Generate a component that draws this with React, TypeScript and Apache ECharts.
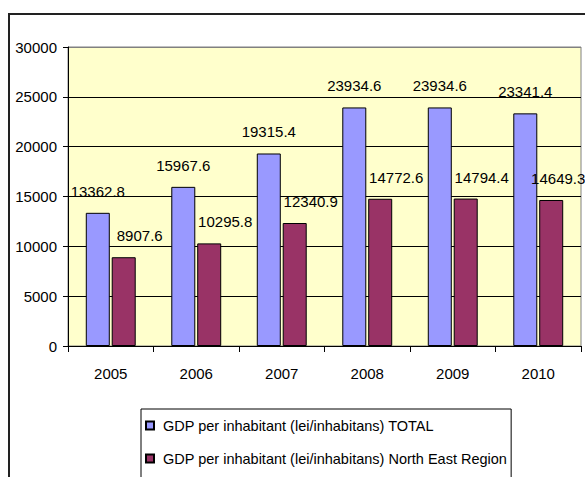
import React, { useEffect, useRef } from "react";
import * as echarts from "echarts";

const categories = ["2005", "2006", "2007", "2008", "2009", "2010"];
const totalValues = [13362.8, 15967.6, 19315.4, 23934.6, 23934.6, 23341.4];
const northEastValues = [8907.6, 10295.8, 12340.9, 14772.6, 14794.4, 14649.3];
const seriesNames = [
  "GDP per inhabitant (lei/inhabitans) TOTAL",
  "GDP per inhabitant (lei/inhabitans) North East Region",
];

const FONT = "Arial, 'Liberation Sans', sans-serif";

export default function App() {
  const ref = useRef<HTMLDivElement>(null);
  useEffect(() => {
    if (!ref.current) return;
    const chart = echarts.init(ref.current, null, { renderer: "svg" });
    const neData = northEastValues.map((v, i) =>
      i === northEastValues.length - 1
        ? { value: v, label: { offset: [7, 0] } }
        : v
    );
    chart.setOption({
      animation: false,
      backgroundColor: "#ffffff",
      textStyle: { fontFamily: FONT },
      graphic: [
        {
          type: "rect",
          shape: { x: 9, y: 14, width: 620, height: 520 },
          style: { fill: "none", stroke: "#222", lineWidth: 2 },
          silent: true,
          z: 100,
        },
      ],
      grid: {
        left: 68,
        top: 47,
        right: 4,
        bottom: 131,
        show: true,
        backgroundColor: "#FFFFCC",
        borderColor: "#808080",
        borderWidth: 1,
      },
      legend: {
        orient: "vertical",
        left: 141,
        top: 409,
        height: 120,
        padding: [9, 4, 12, 4],
        itemGap: 18,
        itemWidth: 8,
        itemHeight: 8,
        icon: "rect",
        borderColor: "#000",
        borderWidth: 1,
        backgroundColor: "#fff",
        selectedMode: false,
        textStyle: { fontSize: 14.5, color: "#000", fontFamily: FONT, padding: [0, 0, 0, 4] },
        data: seriesNames,
      },
      xAxis: {
        type: "category",
        data: categories,
        axisLine: { show: true, lineStyle: { color: "#000", width: 1 } },
        axisTick: { show: true, length: 6, lineStyle: { color: "#000" } },
        axisLabel: { color: "#000", fontSize: 15, margin: 20, fontFamily: FONT },
      },
      yAxis: {
        type: "value",
        min: 0,
        max: 30000,
        interval: 5000,
        axisLine: { show: true, lineStyle: { color: "#000", width: 1 } },
        axisTick: { show: true, length: 5, lineStyle: { color: "#000" } },
        axisLabel: {
          color: "#000",
          fontSize: 15,
          margin: 11,
          fontFamily: FONT,
          formatter: (v: number) => String(v),
        },
        splitLine: {
          show: true,
          lineStyle: {
            color: ["#000", "#000", "#000", "#000", "#000", "#000", "#808080"],
            width: 1,
          },
        },
      },
      series: [
        {
          name: seriesNames[0],
          type: "bar",
          data: totalValues,
          barWidth: 24,
          barGap: "8%",
          itemStyle: { color: "#9999FF", borderColor: "#000", borderWidth: 1 },
          label: {
            show: true,
            position: "top",
            distance: 14,
            color: "#000",
            fontSize: 15,
            fontFamily: FONT,
          },
        },
        {
          name: seriesNames[1],
          type: "bar",
          data: neData,
          barWidth: 24,
          barGap: "8%",
          itemStyle: { color: "#993366", borderColor: "#000", borderWidth: 1 },
          label: {
            show: true,
            position: "top",
            distance: 14,
            offset: [16, 0],
            color: "#000",
            fontSize: 15,
            fontFamily: FONT,
          },
        },
      ],
    });
    return () => chart.dispose();
  }, []);
  return (
    <div
      ref={ref}
      style={{ position: "fixed", left: 0, top: 0, width: 585, height: 477 }}
    />
  );
}
